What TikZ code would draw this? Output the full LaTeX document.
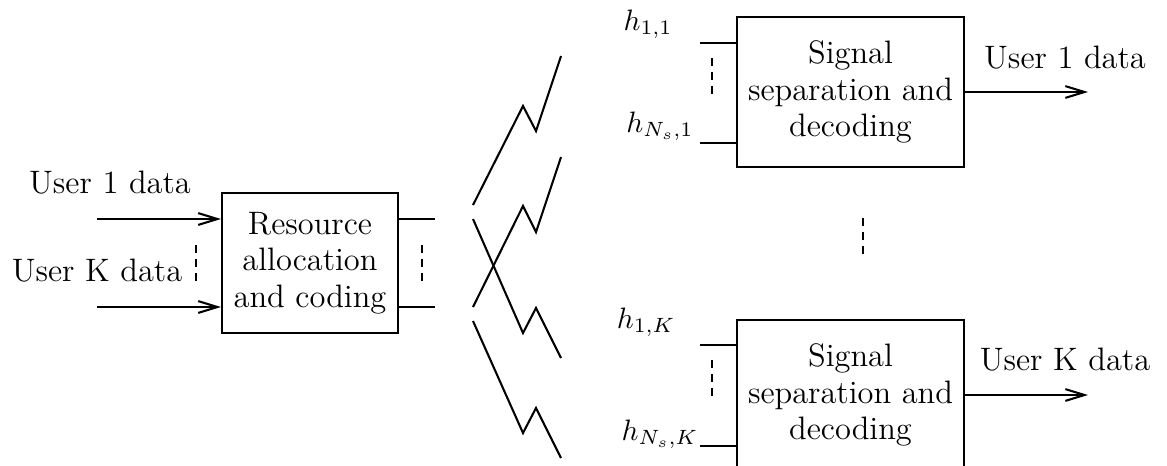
\documentclass[tikz,border=0pt]{standalone}
\usetikzlibrary{arrows.meta}
\begin{document}
\begin{tikzpicture}[x=0.339pt,y=-0.339pt,line width=0.7pt,
  box/.style={draw,align=center,inner sep=0pt,font=\fontsize{11}{12.3}\selectfont},
  arr/.style={-{Straight Barb[length=6.5pt,width=4pt]}},
  dots/.style={dash pattern=on 2.7pt off 2pt,line width=0.9pt},
  lbl/.style={inner sep=0pt,anchor=base,font=\fontsize{11}{13}\selectfont},
  chan/.style={inner sep=0pt,anchor=base,font=\fontsize{10}{12}\selectfont}]
\useasboundingbox (0,0) rectangle (1167,465);
\clip (0,0) rectangle (1167,465);

% transmitter side
\node[box,minimum width=59.7pt,minimum height=47.5pt] (alloc) at (310,263)
  {Resource\\allocation\\and coding};
\node[lbl] (tu1) at (110,193) {User 1 data};
\node[lbl] (tuk) at (97,281) {User K data};
\coordinate (in1) at (97,219);
\coordinate (ink) at (97,307);
\draw[arr] (in1) -- (in1 -| alloc.west);
\draw[arr] (ink) -- (ink -| alloc.west);
\draw[dots] (196,245) -- (196,282);
\coordinate (out1) at (435,219);
\coordinate (outk) at (435,307);
\draw (out1 -| alloc.east) -- (out1);
\draw (outk -| alloc.east) -- (outk);
\draw[dots] (422,245) -- (422,282);

% radio channels
\draw (473,205) -- (523,106) -- (536,131) -- (561,56);
\draw (473,307) -- (523,206) -- (536,232) -- (561,157);
\draw (473,219) -- (523,333) -- (536,308) -- (561,358);
\draw (473,321) -- (523,433) -- (536,408) -- (561,458);

% receiver for user 1
\node[box,minimum width=77pt,minimum height=50.9pt] (rx1) at (850.5,92)
  {Signal\\separation and\\decoding};
\coordinate (h11) at (700,43);
\coordinate (hn1) at (700,143);
\draw (h11) -- (h11 -| rx1.west);
\draw (hn1) -- (hn1 -| rx1.west);
\draw[dots] (712,58) -- (712,94);
\node[chan] (lh11) at (648,30) {$h_{1,1}$};
\node[chan] (lhn1) at (660,132) {$h_{N_s,1}$};
\coordinate (o1) at (1088,92);
\draw[arr] (rx1.east) -- (o1);
\node[lbl] (ru1) at (1065,68) {User 1 data};

% further receivers
\draw[dots] (863,218) -- (863,257);

% receiver for user K
\node[box,minimum width=77pt,minimum height=50.9pt] (rxk) at (850.5,395)
  {Signal\\separation and\\decoding};
\coordinate (h1k) at (700,345);
\coordinate (hnk) at (700,446);
\draw (h1k) -- (h1k -| rxk.west);
\draw (hnk) -- (hnk -| rxk.west);
\draw[dots] (712,360) -- (712,396);
\node[chan] (lh1k) at (646,328) {$h_{1,K}$};
\node[chan] (lhnk) at (660,440) {$h_{N_s,K}$};
\coordinate (ok) at (1088,395);
\draw[arr] (ok -| rxk.east) -- (ok);
\node[lbl] (ruk) at (1065,370) {User K data};
\end{tikzpicture}
\end{document}
